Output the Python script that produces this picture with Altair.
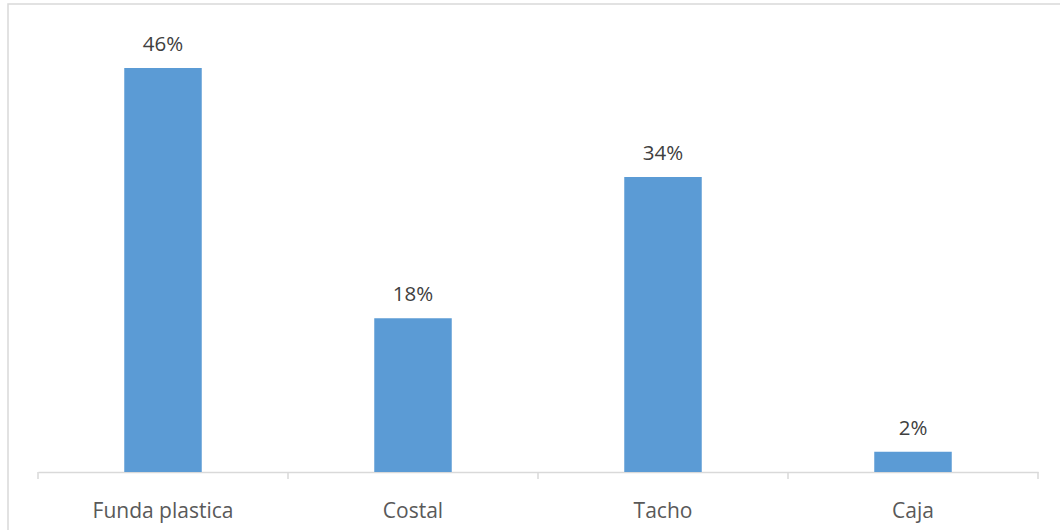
import altair as alt
import pandas as pd

categories = ["Funda plastica", "Costal", "Tacho", "Caja"]
values = [0.46, 0.175, 0.336, 0.023]
tick_bounds = [0, 1, 2, 3, 4]

df = pd.DataFrame({"cat": categories, "val": values})

xaxis = alt.Axis(labelAngle=0, labelFontSize=21, labelColor="#595959",
                 labelFont="Open Sans", labelPadding=28,
                 domainColor="#d9d9d9", domainWidth=1.5, ticks=False)
xscale = alt.Scale(paddingInner=0.69, paddingOuter=0.345)
x = alt.X("cat:N", sort=categories, title=None, scale=xscale, axis=xaxis)
y = alt.Y("val:Q", title=None, scale=alt.Scale(domain=[0, 0.5]), axis=None)

base = alt.Chart(df)

bars = base.mark_bar(color="#5b9bd5").encode(x=x, y=y)
labels = base.mark_text(dy=-23, fontSize=20.5, color="#404040", font="Open Sans").encode(
    x=x, y=y, text=alt.Text("val:Q", format=".0%"))

ticks = alt.Chart(pd.DataFrame({"b": tick_bounds})).mark_rule(
    color="#d9d9d9", strokeWidth=1.5).encode(
    x=alt.X("b:Q", scale=alt.Scale(domain=[0, 4], nice=False, zero=False), axis=None),
    y=alt.value(439), y2=alt.value(446))

border = alt.Chart(pd.DataFrame({"a": [0]})).mark_rect(
    fill=None, stroke="#d9d9d9", strokeWidth=1.5).encode(
    x=alt.value(-30), x2=alt.value(1050), y=alt.value(-29), y2=alt.value(520))

chart = alt.layer(border, alt.layer(bars, labels), ticks).resolve_scale(x="independent").properties(
    width=1000, height=439,
    autosize=alt.AutoSizeParams(type="none"),
    padding={"left": 38, "top": 33, "right": 22, "bottom": 58},
).configure_view(stroke=None)

chart.save("out.html", embed_options={"renderer": "svg", "actions": False})
